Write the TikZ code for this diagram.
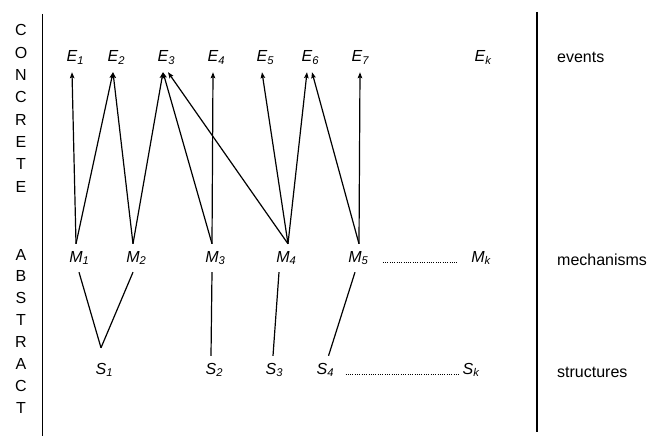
\documentclass[tikz,border=0pt]{standalone}
\usepackage{fontspec}
\setmainfont{Liberation Sans}
\usetikzlibrary{arrows.meta}
\newcommand{\idx}[2]{\textit{#1}\rlap{\textsubscript{\textit{#2}}}}

\begin{document}
\begin{tikzpicture}[x=1pt,y=-1pt,
		lab/.style={anchor=base,inner xsep=1pt,inner ysep=6pt,text height=12pt,text depth=4pt,font=\fontsize{16}{19}\selectfont},
		word/.style={anchor=base west,inner sep=0pt,font=\fontsize{16}{19}\selectfont},
		letter/.style={anchor=base,inner sep=0pt,font=\fontsize{16}{19}\selectfont},
		link/.style={black,line width=1.2pt},
		arr/.style={link,-{Stealth[length=6pt,width=4.5pt,inset=1pt]}},
		dots/.style={black,line width=1pt,dash pattern=on 1pt off 1.3pt}]
				\useasboundingbox (0,0) rectangle (649,436);
				\draw [black,line width=1.4pt] (42.5,14) to (42.5,436);
				\draw [black,line width=1.4pt] (537,12) to (537,432);
				\foreach \ch [count=\i] in {C,O,N,C,R,E,T,E}
					\node [letter] (con\i) at (21,{36+22.3*(\i-1)}) {\ch};
				\foreach \ch [count=\i] in {A,B,S,T,R,A,C,T}
					\node [letter] (abs\i) at (21,{260+21.9*(\i-1)}) {\ch};
				\foreach \n/\x in {1/72,2/113,3/163,4/213,5/262,6/307,7/357}
					\node [lab] (e\n) at (\x,62) {\idx{E}{\n}};
				\node [lab] (ek) at (480,62) {\idx{E}{k}};
				\foreach \n/\x in {1/76,2/133,3/212,4/283,5/355}
					\node [lab] (m\n) at (\x,262) {\idx{M}{\n}};
				\node [lab] (mk) at (478,262) {\idx{M}{k}};
				\foreach \n/\x in {1/101,2/211,3/271,4/322}
					\node [lab] (s\n) at (\x,374) {\idx{S}{\n}};
				\node [lab] (sk) at (468,374) {\idx{S}{k}};
				\node [word] (events) at (557,63) {events};
				\node [word] (mech) at (557,265) {mechanisms};
				\node [word] (struct) at (557,377) {structures};
				\draw [arr] (m1.north) to (e1.south);
				\draw [arr] (m1.north) to (e2.south);
				\draw [arr] (m2.north) to (e2.south);
				\draw [arr] (m2.north) to (e3.south);
				\draw [arr] (m3.north) to (e3.south);
				\draw [arr] (m3.north) to (e4.south);
				\draw [arr] ([xshift=5pt]m4.north) to ([xshift=5pt]e3.south);
				\draw [arr] ([xshift=5pt]m4.north) to (e5.south);
				\draw [arr] ([xshift=5pt]m4.north) to (e6.south);
				\draw [arr] ([xshift=4pt]m5.north) to ([xshift=5pt]e6.south);
				\draw [arr] ([xshift=4pt]m5.north) to ([xshift=3pt]e7.south);
				\draw [link] ([xshift=3pt]m1.south) to ([yshift=8pt]s1.north);
				\draw [link] (m2.south) to ([yshift=8pt]s1.north);
				\draw [link] (m3.south) to (s2.north);
				\draw [link] ([xshift=-4pt]m4.south) to ([xshift=2pt]s3.north);
				\draw [link] (m5.south) to (s4.north east);
				\draw [dots,shorten <=20pt,shorten >=13pt] (m5.base east) to (mk.base west);
				\draw [dots,shorten <=17pt,shorten >=1pt] (s4.base east) to (sk.base west);
			\end{tikzpicture}
\end{document}
